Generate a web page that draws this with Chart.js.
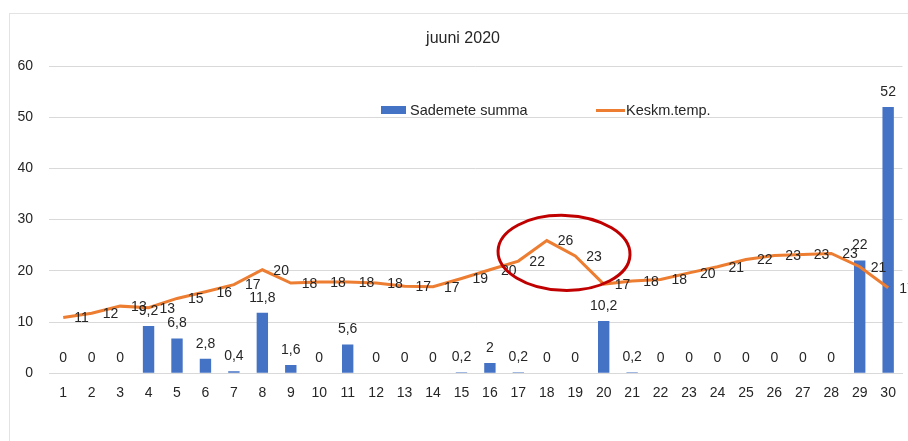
<!DOCTYPE html>
<html>
<head>
<meta charset="utf-8">
<script src="https://cdn.jsdelivr.net/npm/chart.js@4"></script>
<style>
  body { margin: 0; background: #fff; font-family: 'Liberation Sans', Arial, sans-serif; }
  #wrap { position: relative; width: 908px; height: 441px; }
  #frame { position: absolute; left: 9px; top: 13px; right: 0; bottom: 0; border-left: 1px solid #e3e3e3; border-top: 1px solid #e3e3e3; }
  #title { position: absolute; top: 29px; left: 463px; transform: translateX(-50%); font-size: 16px; line-height: 18px; color: #262626; white-space: nowrap; }
  .leg { position: absolute; top: 101px; font-size: 14.5px; line-height: 18px; color: #262626; white-space: nowrap; }
  .sw { position: absolute; }
</style>
</head>
<body>
<div id="wrap">
  <div id="frame"></div>
  <canvas id="meuGrafico" width="908" height="441"></canvas>
  <div id="title">juuni 2020</div>
  <div class="sw" style="left:381px;top:106px;width:25px;height:8px;background:#4472C4"></div>
  <div class="leg" style="left:410px">Sademete summa</div>
  <div class="sw" style="left:596px;top:108.5px;width:29px;height:3px;background:#ED7D31"></div>
  <div class="leg" style="left:626px">Keskm.temp.</div>
</div>
<script>
const days = ['1','2','3','4','5','6','7','8','9','10','11','12','13','14','15','16','17','18','19','20','21','22','23','24','25','26','27','28','29','30'];
const sademed = [0, 0, 0, 9.2, 6.8, 2.8, 0.4, 11.8, 1.6, 0, 5.6, 0, 0, 0, 0.2, 2, 0.2, 0, 0, 10.2, 0.2, 0, 0, 0, 0, 0, 0, 0, 22, 52];
const temp = [10.9, 11.7, 13.1, 12.8, 14.6, 15.9, 17.3, 20.2, 17.6, 17.8, 17.8, 17.6, 17.0, 16.9, 18.5, 20.2, 21.9, 25.9, 22.9, 17.4, 18.0, 18.3, 19.6, 20.8, 22.2, 23.0, 23.2, 23.4, 20.8, 16.7];
const yTicks = [0, 10, 20, 30, 40, 50, 60];

const FONT = "'Liberation Sans', Arial, sans-serif";

// data labels, drawn by hand (no datalabels plugin offline)
const labelPlugin = {
    id: 'labels',
    afterDatasetsDraw(chart) {
        const ctx = chart.ctx;
        ctx.save();
        ctx.font = '14px ' + FONT;
        ctx.fillStyle = '#262626';
        ctx.textBaseline = 'middle';
        chart.getDatasetMeta(0).data.forEach((bar, i) => {
            ctx.textAlign = 'center';
            ctx.fillText(String(sademed[i]).replace('.', ','), bar.x, bar.y - 15);
        });
        chart.getDatasetMeta(1).data.forEach((pt, i) => {
            ctx.textAlign = 'left';
            ctx.fillText(String(Math.round(temp[i])), pt.x + 11, pt.y + 1);
        });
        ctx.restore();
    }
};

// red circle drawn around the heat peak
const ringPlugin = {
    id: 'ring',
    afterDraw(chart) {
        const x = chart.scales.x, y = chart.scales.y;
        const cx = (x.getPixelForValue(17) + x.getPixelForValue(18)) / 2 + 3;
        const cy = y.getPixelForValue(23.5);
        const ctx = chart.ctx;
        ctx.save();
        ctx.strokeStyle = '#C00000';
        ctx.lineWidth = 3;
        ctx.beginPath();
        ctx.ellipse(cx, cy, 66, 37.5, 0.03, 0, Math.PI * 2);
        ctx.stroke();
        ctx.restore();
    }
};

const ctx = document.getElementById('meuGrafico').getContext('2d');
new Chart(ctx, {
    type: 'bar',
    data: {
        labels: days,
        datasets: [{
            label: 'Sademete summa',
            data: sademed,
            backgroundColor: '#4472C4',
            barPercentage: 0.4,
            categoryPercentage: 1,
            order: 1
        }, {
            type: 'line',
            label: 'Keskm.temp.',
            data: temp,
            borderColor: '#ED7D31',
            borderWidth: 3,
            pointRadius: 0,
            tension: 0,
            order: 0
        }]
    },
    options: {
        responsive: false,
        animation: false,
        layout: { padding: { left: 0, top: 66, right: 4, bottom: 27 } },
        plugins: {
            legend: { display: false },
            title: { display: false },
            tooltip: { enabled: false }
        },
        scales: {
            x: {
                grid: { display: false, drawTicks: false },
                border: { display: true, color: '#d9d9d9', width: 1 },
                ticks: { color: '#262626', font: { family: FONT, size: 14 }, padding: 12, maxRotation: 0, autoSkip: false }
            },
            y: {
                min: 0,
                max: 60,
                afterBuildTicks: s => { s.ticks = yTicks.map(v => ({ value: v })); },
                afterFit: s => { s.width = 49; },
                grid: { color: '#d9d9d9', lineWidth: 1, drawTicks: false },
                border: { display: false },
                ticks: { color: '#262626', font: { family: FONT, size: 14 }, padding: 16 }
            }
        }
    },
    plugins: [labelPlugin, ringPlugin]
});
</script>
</body>
</html>
